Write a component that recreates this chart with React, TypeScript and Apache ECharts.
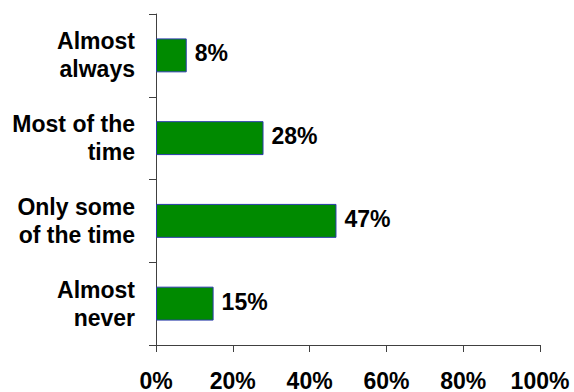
import React, { useEffect, useRef } from "react";
import * as echarts from "echarts";

const categories = ["Almost\nalways", "Most of the\ntime", "Only some\nof the time", "Almost\nnever"];
const values = [8, 28, 47, 15];
const xTicks = { min: 0, max: 100, interval: 20 };

export default function App() {
  const ref = useRef<HTMLDivElement>(null);
  useEffect(() => {
    if (!ref.current) return;
    const chart = echarts.init(ref.current, null, { renderer: "svg" });
    const font = "'Liberation Sans', Arial, sans-serif";
    chart.setOption({
      animation: false,
      backgroundColor: "#ffffff",
      grid: { left: 156, right: 34, top: 14, bottom: 47, containLabel: false },
      xAxis: {
        type: "value",
        min: xTicks.min,
        max: xTicks.max,
        interval: xTicks.interval,
        axisLine: { show: true, lineStyle: { color: "#404040", width: 1 } },
        axisTick: { show: true, length: 7, lineStyle: { color: "#404040" } },
        splitLine: { show: false },
        axisLabel: {
          formatter: "{value}%",
          color: "#000",
          fontFamily: font,
          fontWeight: "bold",
          fontSize: 23,
          margin: 24,
        },
      },
      yAxis: {
        type: "category",
        inverse: true,
        data: categories,
        axisLine: { show: true, lineStyle: { color: "#404040", width: 1 } },
        axisTick: { show: true, length: 7, lineStyle: { color: "#404040" } },
        axisLabel: {
          color: "#000",
          fontFamily: font,
          fontWeight: "bold",
          fontSize: 23,
          lineHeight: 28,
          margin: 21,
          align: "right",
          padding: [0, 0, 6, 0],
        },
      },
      series: [
        {
          type: "bar",
          data: values,
          barWidth: "41%",
          itemStyle: { color: "#008a00", borderColor: "#2a3caa", borderWidth: 1 },
          label: {
            show: true,
            position: "right",
            distance: 8,
            offset: [0, -2],
            formatter: "{c}%",
            color: "#000",
            fontFamily: font,
            fontWeight: "bold",
            fontSize: 23,
          },
        },
      ],
    });
    return () => chart.dispose();
  }, []);
  return <div ref={ref} style={{ width: 574, height: 392, position: "absolute", left: 0, top: 0 }} />;
}
